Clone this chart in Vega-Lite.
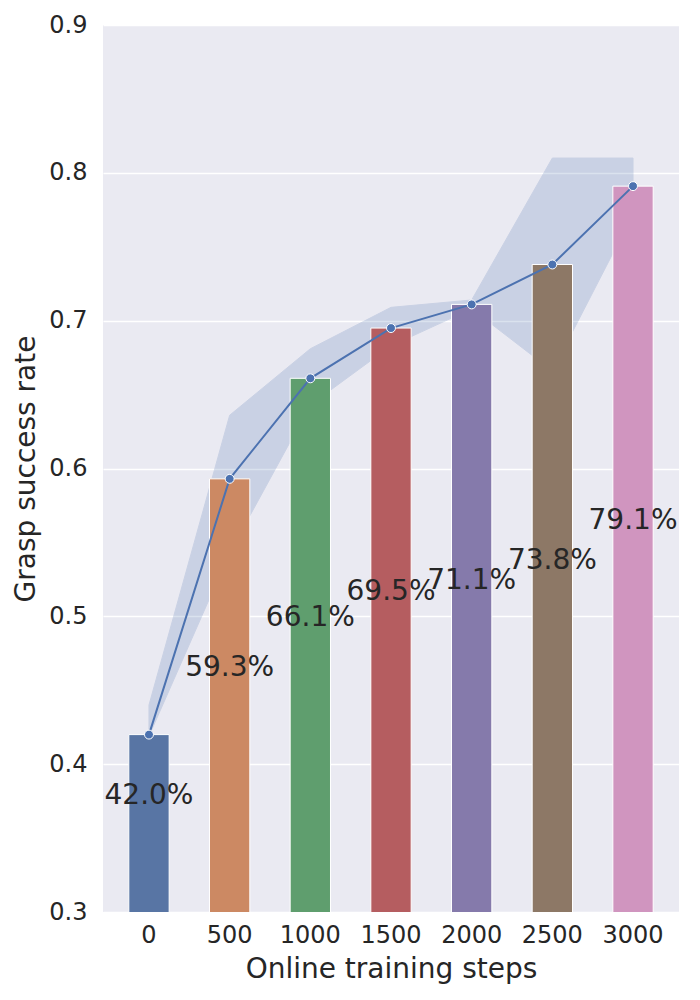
{
  "$schema": "https://vega.github.io/schema/vega-lite/v6.json",
  "width": 576,
  "height": 887,
  "autosize": {"type": "none"},
  "padding": {"left": 103, "top": 25, "right": 21, "bottom": 88},
  "background": "white",
  "config": {
    "view": {"fill": "#EAEAF2", "stroke": null},
    "font": "DejaVu Sans",
    "axis": {
      "domain": false,
      "ticks": false,
      "tickSize": 0,
      "labelColor": "#262626",
      "titleColor": "#262626",
      "labelFont": "DejaVu Sans",
      "titleFont": "DejaVu Sans",
      "labelFontSize": 24,
      "titleFontSize": 28,
      "titleFontWeight": "normal",
      "gridColor": "white",
      "gridWidth": 1.3
    }
  },
  "data": {
    "values": [
      {"step": 0, "rate": 0.420, "lo": 0.419, "hi": 0.440},
      {"step": 500, "rate": 0.593, "lo": 0.543, "hi": 0.636},
      {"step": 1000, "rate": 0.661, "lo": 0.643, "hi": 0.681},
      {"step": 1500, "rate": 0.695, "lo": 0.683, "hi": 0.709},
      {"step": 2000, "rate": 0.711, "lo": 0.708, "hi": 0.714},
      {"step": 2500, "rate": 0.738, "lo": 0.666, "hi": 0.810},
      {"step": 3000, "rate": 0.791, "lo": 0.772, "hi": 0.810}
    ]
  },
  "encoding": {
    "x": {
      "field": "step",
      "type": "ordinal",
      "title": "Online training steps",
      "scale": {"paddingInner": 0.5, "paddingOuter": 0.32},
      "axis": {"labelAngle": 0, "grid": false, "labelPadding": 11, "titlePadding": 8}
    }
  },
  "layer": [
    {
      "layer": [
        {
          "mark": {"type": "area", "color": "#4C72B0", "opacity": 0.2, "stroke": "#4C72B0", "strokeWidth": 1},
          "encoding": {
            "y": {"field": "lo", "type": "quantitative", "scale": {"domain": [0.3, 0.9]}},
            "y2": {"field": "hi"}
          }
        },
        {
          "mark": {"type": "bar", "clip": true, "stroke": "white", "strokeWidth": 1},
          "encoding": {
            "y": {
              "field": "rate",
              "type": "quantitative",
              "title": "Grasp success rate",
              "scale": {"domain": [0.3, 0.9]},
              "axis": {
                "values": [0.3, 0.4, 0.5, 0.6, 0.7, 0.8, 0.9],
                "format": ".1f",
                "labelPadding": 16,
                "titlePadding": 8
              }
            },
            "color": {
              "field": "step",
              "type": "ordinal",
              "legend": null,
              "scale": {"range": ["#5875a4", "#cc8963", "#5f9e6e", "#b55d60", "#857aab", "#8d7866", "#d095bf"]}
            }
          }
        },
        {
          "mark": {"type": "line", "color": "#4C72B0", "strokeWidth": 2},
          "encoding": {
            "y": {"field": "rate", "type": "quantitative"}
          }
        },
        {
          "mark": {"type": "point", "filled": true, "color": "#4C72B0", "stroke": "white", "strokeWidth": 1, "size": 80, "opacity": 1},
          "encoding": {
            "y": {"field": "rate", "type": "quantitative"}
          }
        }
      ]
    },
    {
      "mark": {"type": "text", "fontSize": 28, "color": "#262626", "align": "center", "baseline": "middle"},
      "encoding": {
        "y": {
          "field": "rate",
          "type": "quantitative",
          "scale": {"domain": [0.2626, 1.4626], "zero": false},
          "axis": null
        },
        "text": {"field": "rate", "type": "quantitative", "format": ".1%"}
      }
    }
  ],
  "resolve": {"scale": {"y": "independent", "color": "independent"}}
}
